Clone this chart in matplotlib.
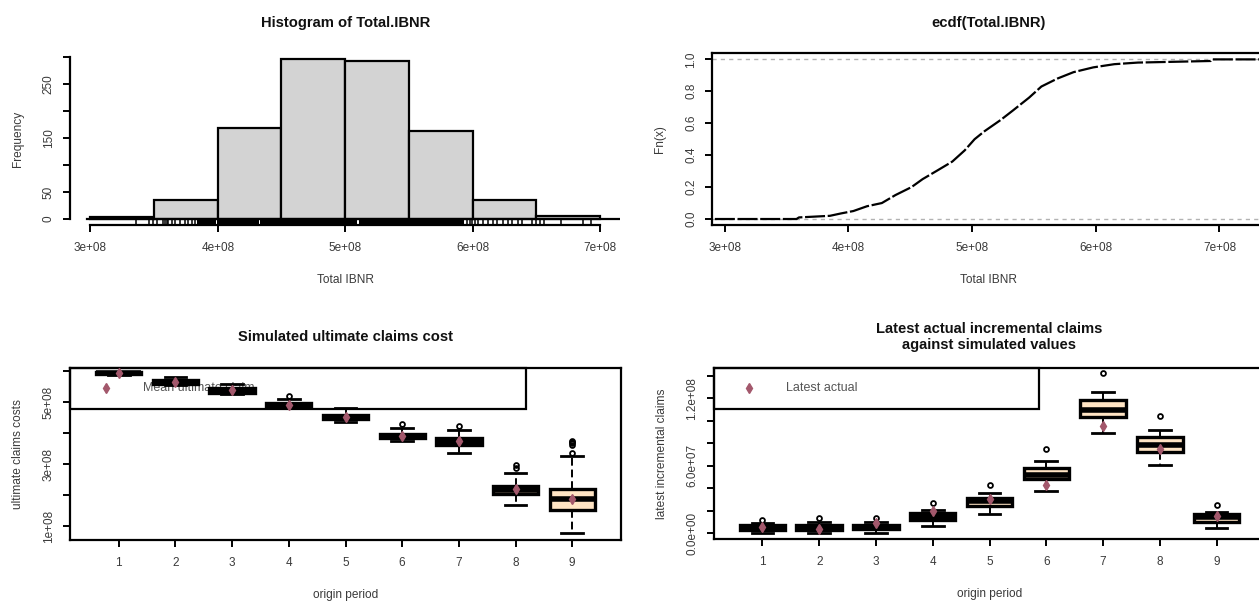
import matplotlib
matplotlib.use("Agg")
import matplotlib.pyplot as plt
from matplotlib.patches import Rectangle

plt.rcParams["font.family"] = ["Liberation Sans", "DejaVu Sans"]

# ---------------- data ----------------
# Histogram of total IBNR (bin edges and counts)
ibnr_breaks = [3.0e8, 3.5e8, 4.0e8, 4.5e8, 5.0e8, 5.5e8, 6.0e8, 6.5e8, 7.0e8]
ibnr_counts = [3, 35, 168, 296, 293, 164, 35, 6]
hist_yticks = [0, 50, 100, 150, 200, 250, 300]
hist_ylabels = ["0", "50", "", "150", "", "250", ""]
ibnr_xticks = [3e8, 4e8, 5e8, 6e8, 7e8]
ibnr_xlabels = ["3e+08", "4e+08", "5e+08", "6e+08", "7e+08"]

# Rug of individual simulated totals (sparse tails) and dense stretches
rug_single = [3.358e8, 3.462e8, 3.489e8, 3.520e8, 3.572e8, 3.586e8, 3.599e8,
              3.611e8, 3.638e8, 3.664e8, 3.703e8, 3.743e8, 3.768e8, 3.795e8,
              3.821e8, 5.953e8, 5.979e8, 5.992e8, 6.018e8, 6.044e8, 6.084e8,
              6.123e8, 6.158e8, 6.189e8, 6.241e8, 6.280e8, 6.311e8, 6.359e8,
              6.390e8, 6.469e8, 6.501e8, 6.532e8, 6.564e8, 6.690e8, 6.863e8,
              6.926e8]
rug_dense_spans = [(3.834e8, 3.985e8), (3.995e8, 4.325e8),
                   (4.335e8, 5.095e8), (5.105e8, 5.935e8)]

# Empirical CDF of total IBNR
ecdf_x = [2.92e8, 3.58e8, 3.60e8, 3.85e8, 3.94e8, 4.04e8, 4.15e8, 4.27e8,
          4.38e8, 4.51e8, 4.60e8, 4.71e8, 4.84e8, 4.94e8, 5.02e8, 5.10e8,
          5.23e8, 5.33e8, 5.46e8, 5.56e8, 5.69e8, 5.82e8, 5.98e8, 6.15e8,
          6.34e8, 6.93e8, 6.94e8, 7.36e8]
ecdf_F = [0.0, 0.0, 0.01, 0.02, 0.035, 0.05, 0.08, 0.10,
          0.15, 0.20, 0.25, 0.30, 0.36, 0.43, 0.50, 0.55,
          0.62, 0.68, 0.76, 0.83, 0.88, 0.92, 0.95, 0.97,
          0.98, 0.99, 1.0, 1.0]
ecdf_yticks = [0.0, 0.2, 0.4, 0.6, 0.8, 1.0]
ecdf_ylabels = ["0.0", "0.2", "0.4", "0.6", "0.8", "1.0"]

# Origin periods
origin = [1, 2, 3, 4, 5, 6, 7, 8, 9]

# Simulated ultimate claims cost (box statistics)
ult_whislo = [5.87e8, 5.55e8, 5.27e8, 4.82e8, 4.37e8, 3.75e8, 3.37e8, 1.69e8, 0.80e8]
ult_q1 = [5.91e8, 5.60e8, 5.31e8, 4.86e8, 4.45e8, 3.84e8, 3.62e8, 2.04e8, 1.53e8]
ult_med = [5.94e8, 5.65e8, 5.37e8, 4.91e8, 4.52e8, 3.92e8, 3.72e8, 2.17e8, 1.88e8]
ult_q3 = [5.96e8, 5.72e8, 5.45e8, 4.96e8, 4.58e8, 3.99e8, 3.83e8, 2.30e8, 2.19e8]
ult_whishi = [5.98e8, 5.82e8, 5.58e8, 5.10e8, 4.80e8, 4.17e8, 4.10e8, 2.71e8, 3.26e8]
ult_fliers = [[], [], [], [5.20e8], [], [4.29e8], [4.23e8], [2.87e8, 2.97e8],
              [3.35e8, 3.63e8, 3.67e8, 3.71e8, 3.75e8]]
ult_mean = [5.95e8, 5.66e8, 5.38e8, 4.92e8, 4.52e8, 3.90e8, 3.75e8, 2.20e8, 1.88e8]
ult_yticks = [1e8, 2e8, 3e8, 4e8, 5e8, 6e8]
ult_ylabels = ["1e+08", "", "3e+08", "", "5e+08", ""]

# Latest incremental claims: simulated box statistics and latest actual values
inc_whislo = [0.00e7, 0.00e7, 0.00e7, 0.68e7, 1.72e7, 3.77e7, 8.90e7, 6.08e7, 0.44e7]
inc_q1 = [0.30e7, 0.28e7, 0.35e7, 1.19e7, 2.45e7, 4.80e7, 10.39e7, 7.27e7, 1.04e7]
inc_med = [0.50e7, 0.48e7, 0.52e7, 1.48e7, 2.90e7, 5.22e7, 11.00e7, 7.90e7, 1.45e7]
inc_q3 = [0.70e7, 0.70e7, 0.71e7, 1.78e7, 3.15e7, 5.82e7, 11.87e7, 8.60e7, 1.74e7]
inc_whishi = [0.92e7, 0.96e7, 1.04e7, 2.07e7, 3.60e7, 6.40e7, 12.60e7, 9.20e7, 1.92e7]
inc_fliers = [[1.18e7], [1.33e7], [1.33e7], [2.67e7], [4.30e7], [7.50e7],
              [14.27e7], [10.44e7], [2.50e7]]
inc_actual = [0.60e7, 0.36e7, 0.89e7, 2.01e7, 3.06e7, 4.28e7, 9.52e7, 7.48e7, 1.50e7]
inc_yticks = [0, 2e7, 4e7, 6e7, 8e7, 10e7, 12e7, 14e7]
inc_ylabels = ["0.0e+00", "", "", "6.0e+07", "", "", "1.2e+08", ""]

# ---------------- styling ----------------
W, H = 1259, 601
TXT = "#3a3a3a"
MARK = "#a3586c"
BISQUE = "#ffe4c4"
TICK_FS = 8.5
LAB_FS = 8.6
TITLE_FS = 10.6

fig = plt.figure(figsize=(W / 100, H / 100), dpi=100)
fig.patch.set_facecolor("white")


def axes_px(left, top, right, bottom):
    return fig.add_axes([left / W, 1 - bottom / H, (right - left) / W, (bottom - top) / H])


def style_axes(ax, box=True):
    for s in ax.spines.values():
        s.set_linewidth(1.6)
        s.set_visible(box)
    ax.tick_params(axis="both", direction="out", length=5, width=1.4,
                   labelsize=TICK_FS, labelcolor=TXT)
    ax.tick_params(axis="x", pad=7)
    ax.tick_params(axis="y", pad=6)
    for lab in ax.get_yticklabels():
        lab.set_rotation(90)
        lab.set_va("center")


def labels(ax, title, xlabel, ylabel, hpx, wpx, title_off=30):
    ax.text(0.5, 1 + title_off / hpx, title, transform=ax.transAxes, ha="center",
            va="center", fontsize=TITLE_FS, fontweight="bold", color="#111111",
            linespacing=1.25)
    ax.text(0.5, -55 / hpx, xlabel, transform=ax.transAxes, ha="center",
            va="center", fontsize=LAB_FS, color=TXT)
    ax.text(-52 / wpx, 0.5, ylabel, transform=ax.transAxes, ha="center",
            va="center", rotation=90, fontsize=LAB_FS, color=TXT)


# ---------- histogram ----------
ax1 = axes_px(70, 53, 620.4, 225.4)
lefts = ibnr_breaks[:-1]
widths = [b - a for a, b in zip(ibnr_breaks[:-1], ibnr_breaks[1:])]
ax1.bar(lefts, ibnr_counts, width=widths, align="edge", color="#d3d3d3",
        edgecolor="black", linewidth=1.6)
ax1.axhline(0, xmin=0.03, xmax=1.0, color="black", lw=1.6)
ax1.vlines(rug_single, 0, 0.03, transform=ax1.get_xaxis_transform(),
           color="black", lw=1.1)
for a, b in rug_dense_spans:
    ax1.axvspan(a, b, ymin=0, ymax=0.03, color="black", lw=0)
ax1.set_xlim(2.84e8, 7.16e8)
ax1.set_ylim(-0.04 * max(ibnr_counts), 1.04 * max(ibnr_counts))
ax1.set_xticks(ibnr_xticks, ibnr_xlabels)
ax1.set_yticks(hist_yticks, hist_ylabels)
style_axes(ax1, box=False)
ax1.spines["left"].set_visible(True)
ax1.spines["bottom"].set_visible(True)
ax1.spines["left"].set_bounds(hist_yticks[0], hist_yticks[-1])
ax1.spines["bottom"].set_bounds(ibnr_xticks[0], ibnr_xticks[-1])
labels(ax1, "Histogram of Total.IBNR", "Total IBNR", "Frequency", 172.4, 550.4)

# ---------- ECDF ----------
ax2 = axes_px(712.4, 53, 1264, 225.4)
ax2.axhline(0, color="#b3b3b3", lw=1.0, ls=(0, (3, 3)))
ax2.axhline(1, color="#b3b3b3", lw=1.0, ls=(0, (3, 3)))
ax2.plot(ecdf_x, ecdf_F, color="black", lw=1.6, dashes=(9, 1.2))
ax2.set_xlim(2.9e8, 7.36e8)
ax2.set_ylim(-0.04, 1.04)
ax2.set_xticks(ibnr_xticks, ibnr_xlabels)
ax2.set_yticks(ecdf_yticks, ecdf_ylabels)
style_axes(ax2)
labels(ax2, "ecdf(Total.IBNR)", "Total IBNR", "Fn(x)", 172.4, 551.6)


def box_panel(ax, whislo, q1, med, q3, whishi, fliers, points, legend_text,
              legend_w):
    stats = [dict(whislo=a, q1=b, med=c, q3=d, whishi=e, fliers=f)
             for a, b, c, d, e, f in zip(whislo, q1, med, q3, whishi, fliers)]
    ax.bxp(stats, positions=origin, widths=0.8, capwidths=0.38,
           patch_artist=True, zorder=3,
           boxprops=dict(facecolor=BISQUE, edgecolor="black", linewidth=2.4),
           medianprops=dict(color="black", linewidth=4.0),
           whiskerprops=dict(color="black", linewidth=1.4, linestyle=(0, (4, 2))),
           capprops=dict(color="black", linewidth=2.0),
           flierprops=dict(marker="o", markerfacecolor="none",
                           markeredgecolor="black", markersize=3.5,
                           markeredgewidth=1.3))
    ax.plot(origin, points, ls="none", marker="d", color=MARK, ms=5, zorder=5)
    ax.set_xlim(0.14, 9.86)
    ax.set_xticks(origin, [str(o) for o in origin])
    # legend frame in the top-left corner
    ax.add_patch(Rectangle((0, 1 - 0.238), legend_w, 0.238, transform=ax.transAxes,
                           fill=False, edgecolor="black", lw=1.6, zorder=2,
                           clip_on=False))
    ax.plot([0.065], [0.882], transform=ax.transAxes, marker="d", color=MARK,
            ms=5, ls="none", zorder=2)
    ax.text(0.132, 0.882, legend_text, transform=ax.transAxes, ha="left",
            va="center", fontsize=9, color="#555555", zorder=2)


# ---------- simulated ultimate claims ----------
ax3 = axes_px(70, 368, 621, 540)
box_panel(ax3, ult_whislo, ult_q1, ult_med, ult_q3, ult_whishi, ult_fliers,
          ult_mean, "Mean ultimate claim", 0.827)
ax3.set_ylim(0.56e8, 6.10e8)
ax3.set_yticks(ult_yticks, ult_ylabels)
style_axes(ax3)
labels(ax3, "Simulated ultimate claims cost", "origin period",
       "ultimate claims costs", 172, 551, title_off=31)

# ---------- latest incremental claims ----------
ax4 = axes_px(713.6, 368, 1265.4, 539)
box_panel(ax4, inc_whislo, inc_q1, inc_med, inc_q3, inc_whishi, inc_fliers,
          inc_actual, "Latest actual", 0.59)
ax4.set_ylim(-0.051e8, 1.471e8)
ax4.set_yticks(inc_yticks, inc_ylabels)
style_axes(ax4)
labels(ax4, "Latest actual incremental claims\nagainst simulated values",
       "origin period", "latest incremental claims", 171, 551.8, title_off=31)

fig.savefig("out.png", dpi=100, facecolor="white")
